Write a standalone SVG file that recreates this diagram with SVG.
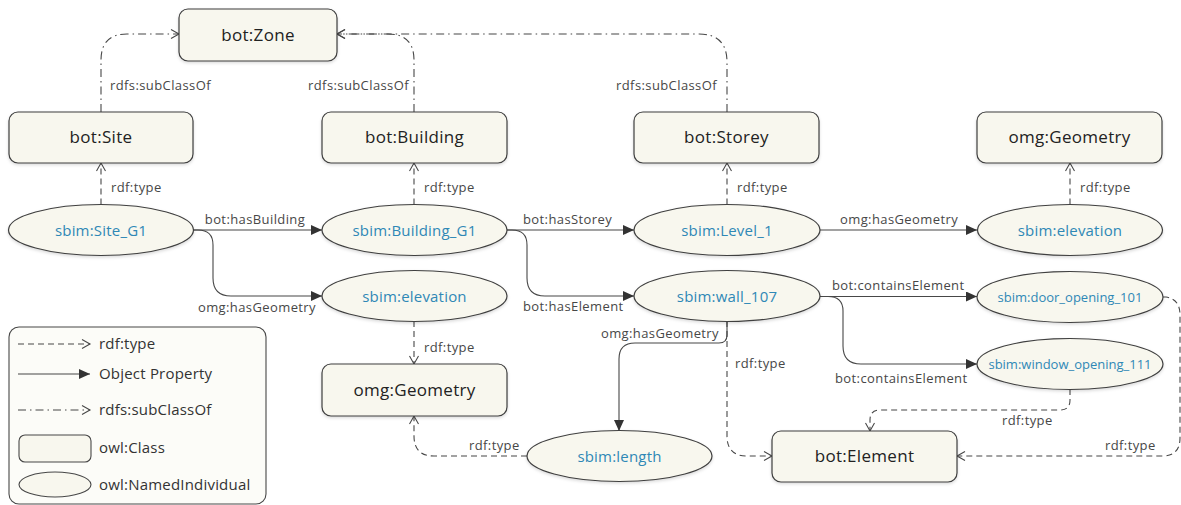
<svg xmlns="http://www.w3.org/2000/svg" width="1181" height="505" viewBox="0 0 1181 505">
<style>
.cls rect{fill:#f8f7ee;stroke:#3f3f3f;stroke-width:1.2}
.ind ellipse{fill:#f8f7ee;stroke:#3f3f3f;stroke-width:1.2}
.ct{font-family:"Open Sans","Liberation Sans",sans-serif;font-size:17px;fill:#222;text-anchor:middle;letter-spacing:0.3px}
.it{font-family:"Open Sans","Liberation Sans",sans-serif;font-size:15px;fill:#2f88b6;text-anchor:middle;letter-spacing:0.2px}
.its{font-size:13px;letter-spacing:0}
.el{font-family:"Open Sans","Liberation Sans",sans-serif;font-size:13px;fill:#474747;letter-spacing:0.4px}
.lt{font-family:"Open Sans","Liberation Sans",sans-serif;font-size:15px;fill:#333;letter-spacing:0.2px}
.e{fill:none;stroke:#474747;stroke-width:1.1}
.type{stroke-dasharray:6 4;marker-end:url(#open)}
.sub{stroke-dasharray:8 4 1.5 4;marker-end:url(#open)}
.obj{marker-end:url(#fill)}
</style>
<defs>
<marker id="open" markerUnits="userSpaceOnUse" markerWidth="12" markerHeight="12" refX="9" refY="5" orient="auto"><path d="M1,0.5 L9,5 L1,9.5" fill="none" stroke="#474747" stroke-width="1.1"/></marker>
<marker id="fill" markerUnits="userSpaceOnUse" markerWidth="14" markerHeight="12" refX="11" refY="5" orient="auto"><path d="M0,0 L11,5 L0,10 Z" fill="#333"/></marker>
<filter id="sh" x="-10%" y="-20%" width="120%" height="150%"><feDropShadow dx="0" dy="1.5" stdDeviation="1.5" flood-color="#000" flood-opacity="0.15"/></filter>
</defs>
<rect width="1181" height="505" fill="#fff"/>

<g id="connectors">
<path class="e sub" d="M101,112 V60 Q101,34 127,34 H179"/>
<path class="e sub" d="M414,112 V60 Q414,34 388,34 H337"/>
<path class="e sub" d="M727,112 V62 Q727,34 699,34 H337"/>
<path class="e type" d="M101,204.5 V163"/>
<path class="e type" d="M414,204.5 V163"/>
<path class="e type" d="M727,204.5 V163"/>
<path class="e type" d="M1070,204.5 V163"/>
<path class="e obj" d="M193,230 H322"/>
<path class="e obj" d="M193,230 H198 Q213,230 213,245 V278 Q213,296 231,296 H322"/>
<path class="e obj" d="M507,230 H634"/>
<path class="e obj" d="M507,230 H512 Q527,230 527,245 V278 Q527,296 545,296 H634"/>
<path class="e obj" d="M820,230 H977"/>
<path class="e obj" d="M820,296.5 H977"/>
<path class="e obj" d="M820,296.5 H828 Q843,296.5 843,311 V346 Q843,364 861,364 H977"/>
<path class="e obj" d="M727,321 V335 Q727,343 719,343 H635 Q619,343 619,359 V431"/>
<path class="e type" d="M727,321 V436 Q727,456 747,456 H772"/>
<path class="e type" d="M1070,389 V400 Q1070,410 1060,410 H880 Q870,410 870,420 V431"/>
<path class="e type" d="M1163,297 H1166 Q1180,299 1180,315 V438 Q1180,456 1162,456 H957"/>
<path class="e type" d="M414,321 V364"/>
<path class="e type" d="M527,456 H434 Q414,456 414,436 V416"/>
<text class="el" x="110" y="90">rdfs:subClassOf</text>
<text class="el" x="409" y="90" text-anchor="end">rdfs:subClassOf</text>
<text class="el" x="717" y="90" text-anchor="end">rdfs:subClassOf</text>
<text class="el" x="111" y="192">rdf:type</text>
<text class="el" x="424" y="192">rdf:type</text>
<text class="el" x="737" y="192">rdf:type</text>
<text class="el" x="1080" y="192">rdf:type</text>
<text class="el" x="255" y="224" text-anchor="middle">bot:hasBuilding</text>
<text class="el" x="316" y="312" text-anchor="end">omg:hasGeometry</text>
<text class="el" x="523" y="224">bot:hasStorey</text>
<text class="el" x="523" y="311">bot:hasElement</text>
<text class="el" x="840" y="224">omg:hasGeometry</text>
<text class="el" x="832" y="290">bot:containsElement</text>
<text class="el" x="835" y="383">bot:containsElement</text>
<text class="el" x="719" y="338" text-anchor="end">omg:hasGeometry</text>
<text class="el" x="735" y="368">rdf:type</text>
<text class="el" x="1002" y="425">rdf:type</text>
<text class="el" x="1105" y="450">rdf:type</text>
<text class="el" x="424" y="352">rdf:type</text>
<text class="el" x="469" y="450">rdf:type</text>
</g>

<g id="bot-Zone" class="cls"><rect x="179" y="9" width="158" height="52" rx="9" filter="url(#sh)"/><text class="ct" x="258" y="41">bot:Zone</text></g>
<g id="bot-Site" class="cls"><rect x="9" y="112" width="184" height="51" rx="9" filter="url(#sh)"/><text class="ct" x="101" y="143">bot:Site</text></g>
<g id="bot-Building" class="cls"><rect x="322" y="112" width="185" height="51" rx="9" filter="url(#sh)"/><text class="ct" x="414.5" y="143">bot:Building</text></g>
<g id="bot-Storey" class="cls"><rect x="634" y="112" width="185" height="51" rx="9" filter="url(#sh)"/><text class="ct" x="726.5" y="143">bot:Storey</text></g>
<g id="omg-Geometry-1" class="cls"><rect x="977" y="112" width="185" height="51" rx="9" filter="url(#sh)"/><text class="ct" x="1069.5" y="143">omg:Geometry</text></g>
<g id="omg-Geometry-2" class="cls"><rect x="322" y="364" width="185" height="52" rx="9" filter="url(#sh)"/><text class="ct" x="414.5" y="395.5">omg:Geometry</text></g>
<g id="bot-Element" class="cls"><rect x="772" y="431" width="185" height="51" rx="9" filter="url(#sh)"/><text class="ct" x="864.5" y="462">bot:Element</text></g>

<g id="sbim-Site_G1" class="ind"><ellipse cx="101" cy="230" rx="92.5" ry="25.5" filter="url(#sh)"/><text class="it" x="101" y="235.5">sbim:Site_G1</text></g>
<g id="sbim-Building_G1" class="ind"><ellipse cx="414.5" cy="230" rx="92.5" ry="25.5" filter="url(#sh)"/><text class="it" x="414.5" y="235.5">sbim:Building_G1</text></g>
<g id="sbim-Level_1" class="ind"><ellipse cx="727" cy="230" rx="93" ry="25.5" filter="url(#sh)"/><text class="it" x="727" y="235.5">sbim:Level_1</text></g>
<g id="sbim-elevation-1" class="ind"><ellipse cx="1070" cy="230" rx="92.5" ry="25.5" filter="url(#sh)"/><text class="it" x="1070" y="235.5">sbim:elevation</text></g>
<g id="sbim-elevation-2" class="ind"><ellipse cx="414.5" cy="296" rx="92.5" ry="25.5" filter="url(#sh)"/><text class="it" x="414.5" y="301.5">sbim:elevation</text></g>
<g id="sbim-wall_107" class="ind"><ellipse cx="727" cy="296" rx="93" ry="25.5" filter="url(#sh)"/><text class="it" x="727" y="301.5">sbim:wall_107</text></g>
<g id="sbim-door_opening_101" class="ind"><ellipse cx="1070" cy="297" rx="93" ry="25.5" filter="url(#sh)"/><text class="it its" x="1070" y="301.5">sbim:door_opening_101</text></g>
<g id="sbim-window_opening_111" class="ind"><ellipse cx="1070" cy="364" rx="93" ry="25.5" filter="url(#sh)"/><text class="it its" x="1070" y="368.5">sbim:window_opening_111</text></g>
<g id="sbim-length" class="ind"><ellipse cx="619.5" cy="456" rx="92.5" ry="25.5" filter="url(#sh)"/><text class="it" x="619.5" y="461.5">sbim:length</text></g>

<g id="legend">
<rect x="9" y="327" width="257" height="177" rx="10" fill="#fcfcf8" stroke="#474747" stroke-width="1.1"/>
<path class="e type" d="M18,344 H90"/>
<path class="e obj" d="M18,374 H90"/>
<path class="e sub" d="M18,410 H90"/>
<rect x="19" y="435" width="72" height="27" rx="6" fill="#f8f7ee" stroke="#474747" stroke-width="1.1"/>
<ellipse cx="55" cy="484.5" rx="36" ry="12.5" fill="#f8f7ee" stroke="#474747" stroke-width="1.1"/>
<text class="lt" x="99" y="349">rdf:type</text>
<text class="lt" x="99" y="379">Object Property</text>
<text class="lt" x="99" y="415">rdfs:subClassOf</text>
<text class="lt" x="99" y="453">owl:Class</text>
<text class="lt" x="99" y="490">owl:NamedIndividual</text>
</g>
</svg>
